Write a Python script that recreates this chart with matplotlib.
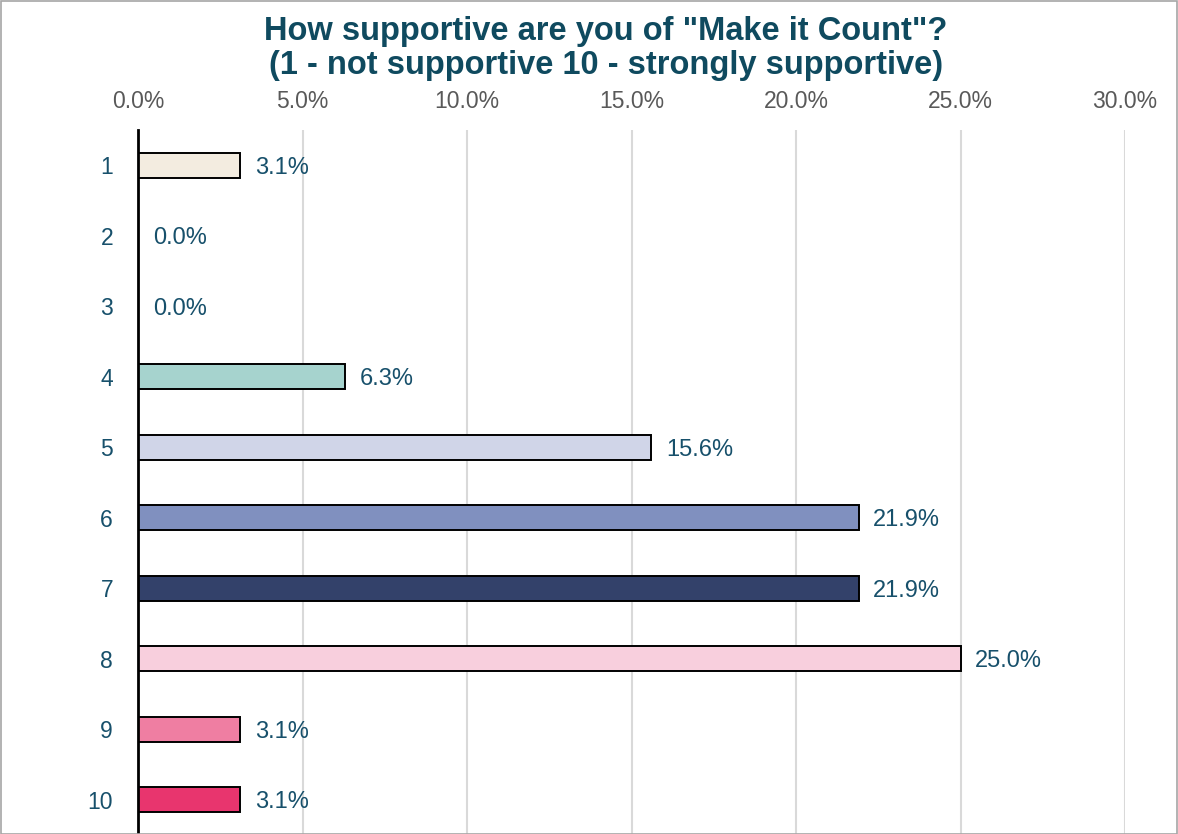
import matplotlib.pyplot as plt
from matplotlib.patches import Rectangle
from matplotlib.ticker import FuncFormatter

plt.rcParams['font.family'] = ['Liberation Sans', 'DejaVu Sans']

# survey responses, share of respondents per score
scores = ['1', '2', '3', '4', '5', '6', '7', '8', '9', '10']
shares = [3.1, 0.0, 0.0, 6.3, 15.6, 21.9, 21.9, 25.0, 3.1, 3.1]
bar_colors = ['#F3ECE0', '#F3ECE0', '#F3ECE0', '#A6D3CE', '#D0D5E8',
              '#8090BF', '#33416A', '#F8CFDD', '#EF7EA2', '#E8356E']

title = 'How supportive are you of "Make it Count"?\n(1 - not supportive 10 - strongly supportive)'
text_col = '#17506B'

fig = plt.figure(figsize=(11.78, 8.34), dpi=100)
ax = fig.add_axes([138 / 1178, -1 / 834, 987 / 1178, 705 / 834])

pos = list(range(len(scores)))
ax.barh(pos, shares, height=0.36, color=bar_colors, edgecolor='black',
        linewidth=1.4, zorder=3)
for y, v in zip(pos, shares):
    ax.text(v + 0.45, y, f'{v:.1f}%', va='center_baseline', ha='left',
            fontsize=17, color=text_col)

ax.set_xlim(0, 30)
ax.set_ylim(len(scores) - 0.5, -0.5)
ax.set_xticks([0, 5, 10, 15, 20, 25, 30])
ax.xaxis.set_major_formatter(FuncFormatter(lambda x, _: f'{x:.1f}%'))
ax.xaxis.tick_top()
ax.tick_params(axis='x', length=0, pad=12, labelsize=16.5, labelcolor='#595959')
ax.set_yticks(pos)
ax.set_yticklabels(scores)
ax.tick_params(axis='y', length=0, pad=18, labelsize=16.5, labelcolor=text_col)
ax.grid(axis='x', color='#D9D9D9', linewidth=1.5, zorder=0)
for s in ['top', 'right', 'bottom']:
    ax.spines[s].set_visible(False)
ax.spines['left'].set_linewidth(2)
ax.spines['left'].set_color('black')
ax.spines['left'].set_zorder(4)

fig.text(606 / 1178, 1 - 16 / 834, title, ha='center', va='top',
         fontsize=23.5, fontweight='bold', color='#0F4A5F', linespacing=1.13)

# thin frame around the whole figure
fig.patches.append(Rectangle((0.0008, 0.0), 0.9984, 0.9985, transform=fig.transFigure,
                             fill=False, edgecolor='#A6A6A6', linewidth=1.2))

fig.savefig('out.png', dpi=100)
